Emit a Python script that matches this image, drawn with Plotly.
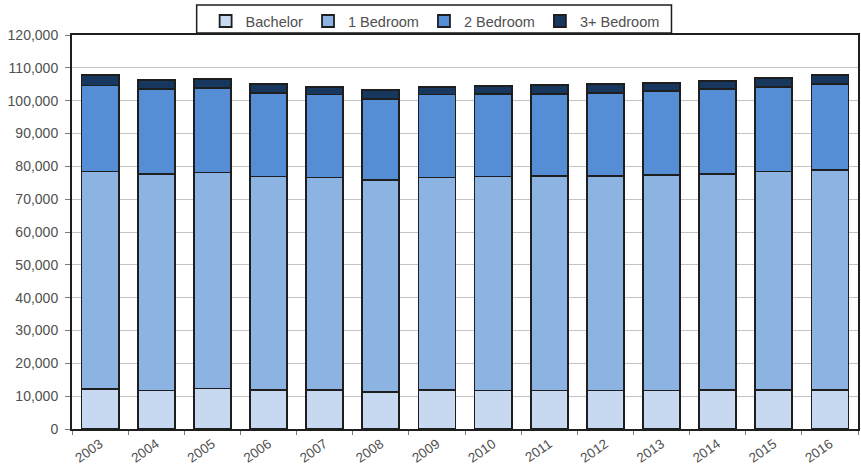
import plotly.graph_objects as go

# Rental universe by unit type, 2003-2016
years = ["2003", "2004", "2005", "2006", "2007", "2008", "2009",
         "2010", "2011", "2012", "2013", "2014", "2015", "2016"]

bachelor = [12200, 11700, 12350, 11800, 11950, 11300, 11900,
            11750, 11750, 11700, 11750, 11950, 11800, 11800]
one_bed = [66200, 65900, 65750, 65100, 64650, 64600, 64700,
           65150, 65250, 65400, 65650, 65750, 66600, 67000]
two_bed = [26200, 26000, 25700, 25350, 25250, 24700, 25250,
           25050, 25050, 25350, 25450, 25750, 25850, 26300]
three_plus = [3100, 2700, 2800, 2750, 2250, 2650, 2400,
              2500, 2750, 2650, 2650, 2650, 2650, 2700]

series = [
    ("Bachelor", bachelor, "#c6d9f1"),
    ("1 Bedroom", one_bed, "#8db3e2"),
    ("2 Bedroom", two_bed, "#558ed5"),
    ("3+ Bedroom", three_plus, "#17375e"),
]

fig = go.Figure()
for name, vals, color in series:
    fig.add_trace(go.Bar(
        x=years, y=vals, name=name,
        marker=dict(color=color, line=dict(color="#1e1e1e", width=1.8)),
    ))

font_family = "Liberation Sans, Arial, sans-serif"
text_color = "#505050"

# Frame drawn around the legend row
fig.add_shape(
    type="rect", xref="paper", yref="paper",
    x0=0.1586, x1=0.7627, y0=1.005, y1=1.076,
    line=dict(color="#1e1e1e", width=1.5),
    fillcolor="white", layer="below",
)

fig.update_layout(
    width=861, height=471,
    barmode="stack",
    bargap=0.34,
    plot_bgcolor="white",
    paper_bgcolor="white",
    margin=dict(l=72, r=1, t=35, b=42),
    font=dict(family=font_family, color=text_color, size=12),
    legend=dict(
        orientation="h",
        x=0.170, y=1.076, xanchor="left", yanchor="top",
        borderwidth=0,
        bgcolor="rgba(0,0,0,0)",
        font=dict(size=14.5, color=text_color),
        itemwidth=30,
        traceorder="normal",
    ),
    xaxis=dict(
        type="category",
        showline=True, linecolor="#1e1e1e", linewidth=2, mirror=True,
        ticks="outside", tickson="boundaries", ticklen=4, tickcolor="#777",
        tickangle=-35,
        tickfont=dict(size=13.5, color=text_color),
        showgrid=False,
    ),
    yaxis=dict(
        range=[0, 120000], dtick=10000, tickformat=",",
        showline=True, linecolor="#1e1e1e", linewidth=2, mirror=True,
        ticks="outside", ticklen=5, tickcolor="#777",
        ticklabelstandoff=4,
        showgrid=True, gridcolor="#c4c4c4", gridwidth=1.2,
        tickfont=dict(size=14, color=text_color),
        zeroline=False,
    ),
)

fig.write_html("out.html")
